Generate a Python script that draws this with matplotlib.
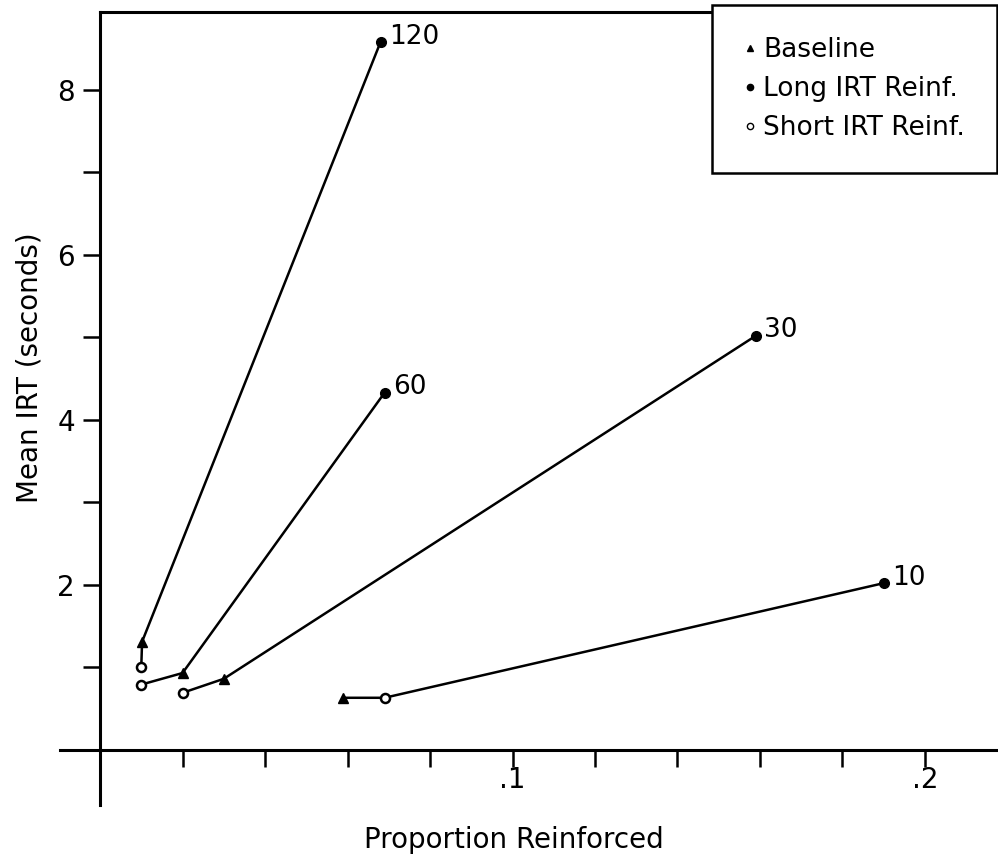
import matplotlib.pyplot as plt
from matplotlib.lines import Line2D

# IRT requirement (seconds) for each condition
conditions = ["120", "60", "30", "10"]

# (proportion reinforced, mean IRT) for each condition
baseline_x = [0.0102, 0.020, 0.030, 0.059]
baseline_y = [1.31, 0.93, 0.86, 0.63]
short_x = [0.010, 0.010, 0.020, 0.069]
short_y = [1.00, 0.79, 0.69, 0.63]
long_x = [0.068, 0.069, 0.159, 0.190]
long_y = [8.58, 4.33, 5.02, 2.02]

x_ticks = [0.02, 0.04, 0.06, 0.08, 0.10, 0.12, 0.14, 0.16, 0.18, 0.20]
x_labels = ["", "", "", "", ".1", "", "", "", "", ".2"]
y_ticks = [1, 2, 3, 4, 5, 6, 7, 8]
y_labels = ["", "2", "", "4", "", "6", "", "8"]

plt.rcParams['font.family'] = ['DejaVu Sans']

fig = plt.figure(figsize=(9.98, 8.66), dpi=100)
ax = fig.add_axes([60 / 998, 1 - 805 / 866, 1 - 60 / 998, (805 - 12) / 866])

xmin, xmax = -0.0097, 0.2177
ymin, ymax = -0.67, 8.945
ax.set_xlim(xmin, xmax)
ax.set_ylim(ymin, ymax)

for i in range(len(conditions)):
    if short_x[i] <= baseline_x[i]:
        xs = [short_x[i], baseline_x[i], long_x[i]]
        ys = [short_y[i], baseline_y[i], long_y[i]]
    else:
        xs = [baseline_x[i], short_x[i], long_x[i]]
        ys = [baseline_y[i], short_y[i], long_y[i]]
    ax.plot(xs, ys, color="black", lw=1.8, zorder=2)
    ax.annotate(conditions[i], (long_x[i], long_y[i]), xytext=(6, 4),
                textcoords="offset points", fontsize=19, va="center", ha="left")

ax.plot(baseline_x, baseline_y, "^", color="black", ms=7.5, ls="none", zorder=3)
ax.plot(long_x, long_y, "o", color="black", ms=7, ls="none", zorder=3)
ax.plot(short_x, short_y, "o", mfc="white", mec="black", mew=1.8, ms=6.5, ls="none", zorder=3)

ax.spines["left"].set_position(("data", 0))
ax.spines["bottom"].set_position(("data", 0))
ax.spines["right"].set_visible(False)
ax.spines["top"].set_visible(False)
ax.spines["left"].set_linewidth(2.2)
ax.spines["bottom"].set_linewidth(2.2)
ax.plot([0, xmax], [ymax, ymax], color="black", lw=2.2, clip_on=False)

ax.set_xticks(x_ticks)
ax.set_xticklabels(x_labels, fontsize=20)
ax.set_yticks(y_ticks)
ax.set_yticklabels(y_labels, fontsize=20)
ax.tick_params(axis="x", direction="out", length=12, width=1.8, pad=0)
ax.tick_params(axis="y", direction="out", length=12, width=1.8, pad=6)

ax.set_xlabel("Proportion Reinforced", fontsize=20)
ax.xaxis.set_label_coords(0.484, -0.027)
ax.set_ylabel("Mean IRT (seconds)", fontsize=20)
ax.yaxis.set_label_coords(-0.018, 0.551)

handles = [
    Line2D([], [], marker="^", color="black", ls="none", ms=5),
    Line2D([], [], marker="o", color="black", ls="none", ms=4.5),
    Line2D([], [], marker="o", mfc="white", mec="black", ls="none", ms=4.5),
]
leg = fig.legend(handles, ["Baseline", "Long IRT Reinf.", "Short IRT Reinf."],
                 loc="upper right", bbox_to_anchor=(0.999, 0.994), fontsize=19,
                 fancybox=False, edgecolor="black", handlelength=0.5,
                 handletextpad=0.25, borderpad=1.2, labelspacing=0.5,
                 borderaxespad=0.0, framealpha=1)
leg.get_frame().set_linewidth(1.8)

fig.savefig("out.png", dpi=100)
